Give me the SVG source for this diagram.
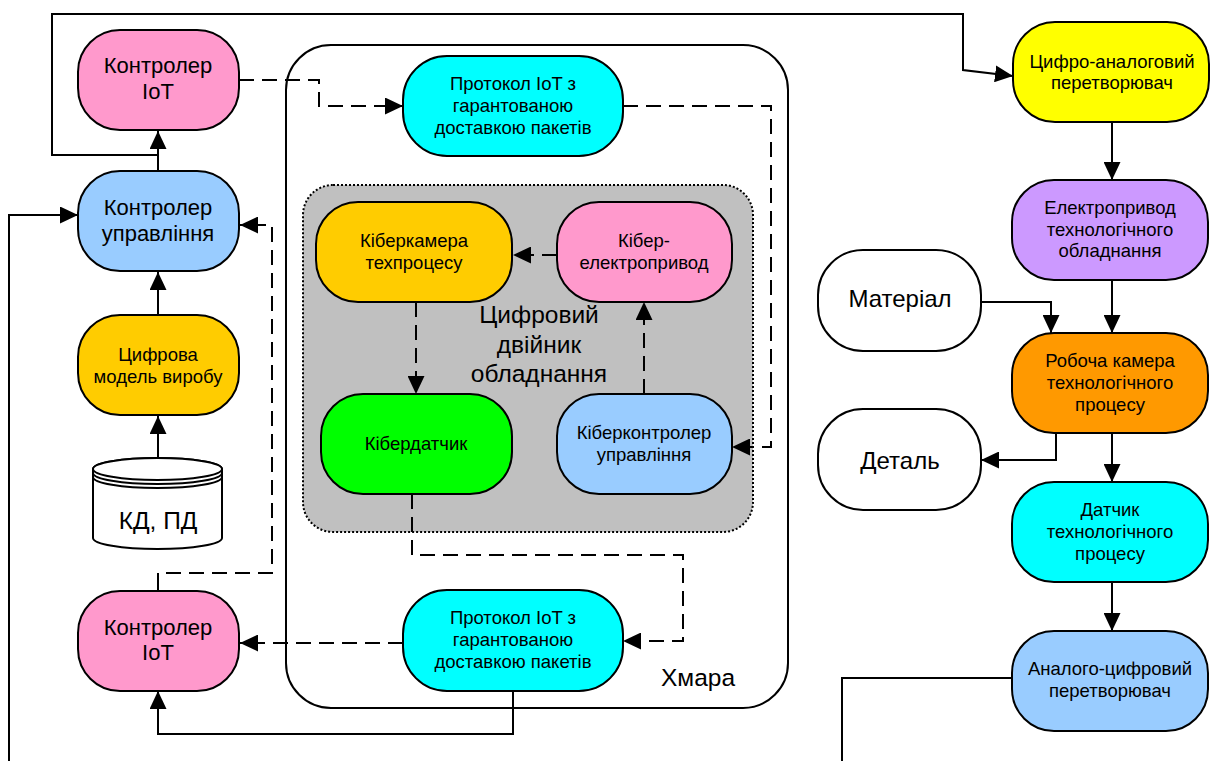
<svg xmlns="http://www.w3.org/2000/svg" width="1216" height="761" viewBox="0 0 1216 761">
  <defs>
    <marker id="ah" viewBox="0 0 18 17" refX="18" refY="8.5" markerWidth="18" markerHeight="17" orient="auto" markerUnits="userSpaceOnUse">
      <path d="M0,0 L18,8.5 L0,17 z" fill="#000" stroke="none"/>
    </marker>
  </defs>
  <style>
    .n { stroke: #000; stroke-width: 2; }
    .t { font-family: "Liberation Sans", Arial, sans-serif; fill: #000; text-anchor: middle; }
    .big { font-size: 22px; }
    .mid { font-size: 18.5px; }
    .sm { font-size: 18.5px; }
    .lg { font-size: 24px; }
    .c { fill: none; stroke: #000; stroke-width: 2; }
    .d { stroke-dasharray: 15 8; }
    .pink { fill: #FF99CC; }
    .blue { fill: #99CCFF; }
    .gold { fill: #FFCC00; }
    .cyan { fill: #00FFFF; }
    .green { fill: #00FF00; }
    .yellow { fill: #FFFF00; }
    .purple { fill: #CC99FF; }
    .orange { fill: #FF9900; }
    .white { fill: #FFFFFF; }
  </style>
  <rect width="1216" height="761" fill="#fff"/>

  <!-- cloud container -->
  <g id="cloud">
    <rect x="286" y="45" width="502" height="663" rx="45" fill="#fff" stroke="#000" stroke-width="2"/>
    <text class="t" x="698" y="686" font-size="24.5">Хмара</text>
  </g>

  <!-- digital twin container -->
  <g id="twin">
    <rect x="303" y="185" width="450" height="347" rx="30" fill="#C0C0C0" stroke="#000" stroke-width="2" stroke-dasharray="2 2"/>
    <text class="t" x="539" y="323" font-size="24.5">Цифровий</text>
    <text class="t" x="539" y="353" font-size="24.5">двійник</text>
    <text class="t" x="539" y="382" font-size="24.5">обладнання</text>
  </g>

  <!-- connectors -->
  <g id="connectors">
    <!-- solid -->
    <path class="c" d="M158,171 L158,131" marker-end="url(#ah)"/>
    <path class="c" d="M158,315 L158,272" marker-end="url(#ah)"/>
    <path class="c" d="M158,458 L158,416" marker-end="url(#ah)"/>
    <path class="c" d="M158,155 L52,155 L52,14 L963,14 L963,70 L1013,76" marker-end="url(#ah)"/>
    <path class="c" d="M9,761 L9,215 L78,215" marker-end="url(#ah)"/>
    <path class="c" d="M513,691 L513,734 L158,734 L158,691" marker-end="url(#ah)"/>
    <path class="c" d="M158,591 L158,573"/>
    <path class="c" d="M1112,122 L1112,180" marker-end="url(#ah)"/>
    <path class="c" d="M1112,280 L1112,333" marker-end="url(#ah)"/>
    <path class="c" d="M981,302 L1051,302 L1051,333" marker-end="url(#ah)"/>
    <path class="c" d="M1056,433 L1056,460 L981,460" marker-end="url(#ah)"/>
    <path class="c" d="M1112,433 L1112,482" marker-end="url(#ah)"/>
    <path class="c" d="M1112,582 L1112,631" marker-end="url(#ah)"/>
    <path class="c" d="M1012,678 L842,678 L842,761"/>
    <!-- dashed -->
    <path class="c d" d="M239,80 L319,80 L319,106 L403,106" marker-end="url(#ah)"/>
    <path class="c d" d="M623,106 L771,106 L771,447 L732,447" marker-end="url(#ah)"/>
    <path class="c d" d="M557,255 L513,255" marker-end="url(#ah)"/>
    <path class="c d" d="M416,302 L416,394" marker-end="url(#ah)"/>
    <path class="c d" d="M644,394 L644,302" marker-end="url(#ah)"/>
    <path class="c d" d="M412,494 L412,555 L683,555 L683,641 L623,641" marker-end="url(#ah)"/>
    <path class="c d" d="M403,643 L240,643" marker-end="url(#ah)"/>
    <path class="c d" d="M166,573 L272,573 L272,225 L240,225" marker-end="url(#ah)"/>
  </g>

  <!-- left column -->
  <g id="iot-top">
    <rect class="n pink" x="78" y="30" width="161" height="100" rx="42"/>
    <text class="t big" x="158" y="73">Контролер</text>
    <text class="t big" x="158" y="99">IoT</text>
  </g>
  <g id="control">
    <rect class="n blue" x="78" y="171" width="161" height="100" rx="42"/>
    <text class="t big" x="158" y="215">Контролер</text>
    <text class="t big" x="158" y="241">управління</text>
  </g>
  <g id="model">
    <rect class="n gold" x="78" y="315" width="161" height="100" rx="42"/>
    <text class="t sm" x="158" y="361">Цифрова</text>
    <text class="t sm" x="158" y="383">модель виробу</text>
  </g>
  <g id="db">
    <path class="n white" d="M93,469 L93,538 A64.5,11 0 0 0 222,538 L222,469 A64.5,11 0 0 0 93,469 Z"/>
    <ellipse cx="157.5" cy="469" rx="64.5" ry="11" fill="#fff" stroke="#000" stroke-width="2"/>
    <path class="c" d="M93,473 A64.5,11 0 0 0 222,473"/>
    <path class="c" d="M93,477 A64.5,11 0 0 0 222,477"/>
    <text class="t" x="158" y="529" font-size="24.5">КД, ПД</text>
  </g>
  <g id="iot-bottom">
    <rect class="n pink" x="78" y="591" width="161" height="100" rx="42"/>
    <text class="t big" x="158" y="635">Контролер</text>
    <text class="t big" x="158" y="660">IoT</text>
  </g>

  <!-- cloud nodes -->
  <g id="proto-top">
    <rect class="n cyan" x="403" y="56" width="220" height="100" rx="44"/>
    <text class="t mid" x="513" y="90">Протокол IoT з</text>
    <text class="t mid" x="513" y="112">гарантованою</text>
    <text class="t mid" x="513" y="134">доставкою пакетів</text>
  </g>
  <g id="cyber-camera">
    <rect class="n gold" x="316" y="202" width="196" height="100" rx="42"/>
    <text class="t sm" x="414" y="247">Кіберкамера</text>
    <text class="t sm" x="414" y="269">техпроцесу</text>
  </g>
  <g id="cyber-drive">
    <rect class="n pink" x="557" y="202" width="175" height="100" rx="42"/>
    <text class="t sm" x="644" y="247">Кібер-</text>
    <text class="t sm" x="644" y="269">електропривод</text>
  </g>
  <g id="cyber-sensor">
    <rect class="n green" x="321" y="394" width="191" height="100" rx="42"/>
    <text class="t sm" x="416" y="450">Кібердатчик</text>
  </g>
  <g id="cyber-controller">
    <rect class="n blue" x="557" y="394" width="175" height="100" rx="42"/>
    <text class="t sm" x="644" y="439">Кіберконтролер</text>
    <text class="t sm" x="644" y="461">управління</text>
  </g>
  <g id="proto-bottom">
    <rect class="n cyan" x="403" y="590" width="220" height="101" rx="44"/>
    <text class="t mid" x="513" y="624">Протокол IoT з</text>
    <text class="t mid" x="513" y="646">гарантованою</text>
    <text class="t mid" x="513" y="668">доставкою пакетів</text>
  </g>

  <!-- equipment column -->
  <g id="dac">
    <rect class="n yellow" x="1013" y="22" width="196" height="100" rx="42"/>
    <text class="t sm" x="1112" y="68">Цифро-аналоговий</text>
    <text class="t sm" x="1112" y="89">перетворювач</text>
  </g>
  <g id="drive">
    <rect class="n purple" x="1012" y="180" width="196" height="100" rx="42"/>
    <text class="t sm" x="1110" y="214">Електропривод</text>
    <text class="t sm" x="1110" y="236">технологічного</text>
    <text class="t sm" x="1110" y="257">обладнання</text>
  </g>
  <g id="material">
    <rect class="n white" x="818" y="250" width="163" height="101" rx="45"/>
    <text class="t lg" x="900" y="307">Матеріал</text>
  </g>
  <g id="chamber">
    <rect class="n orange" x="1012" y="333" width="196" height="100" rx="42"/>
    <text class="t sm" x="1110" y="367">Робоча камера</text>
    <text class="t sm" x="1110" y="389">технологічного</text>
    <text class="t sm" x="1110" y="411">процесу</text>
  </g>
  <g id="part">
    <rect class="n white" x="818" y="409" width="163" height="101" rx="45"/>
    <text class="t lg" x="900" y="469">Деталь</text>
  </g>
  <g id="sensor">
    <rect class="n cyan" x="1012" y="482" width="196" height="100" rx="42"/>
    <text class="t sm" x="1110" y="516">Датчик</text>
    <text class="t sm" x="1110" y="538">технологічного</text>
    <text class="t sm" x="1110" y="560">процесу</text>
  </g>
  <g id="adc">
    <rect class="n blue" x="1012" y="631" width="196" height="100" rx="42"/>
    <text class="t sm" x="1110" y="675">Аналого-цифровий</text>
    <text class="t sm" x="1110" y="697">перетворювач</text>
  </g>
</svg>
